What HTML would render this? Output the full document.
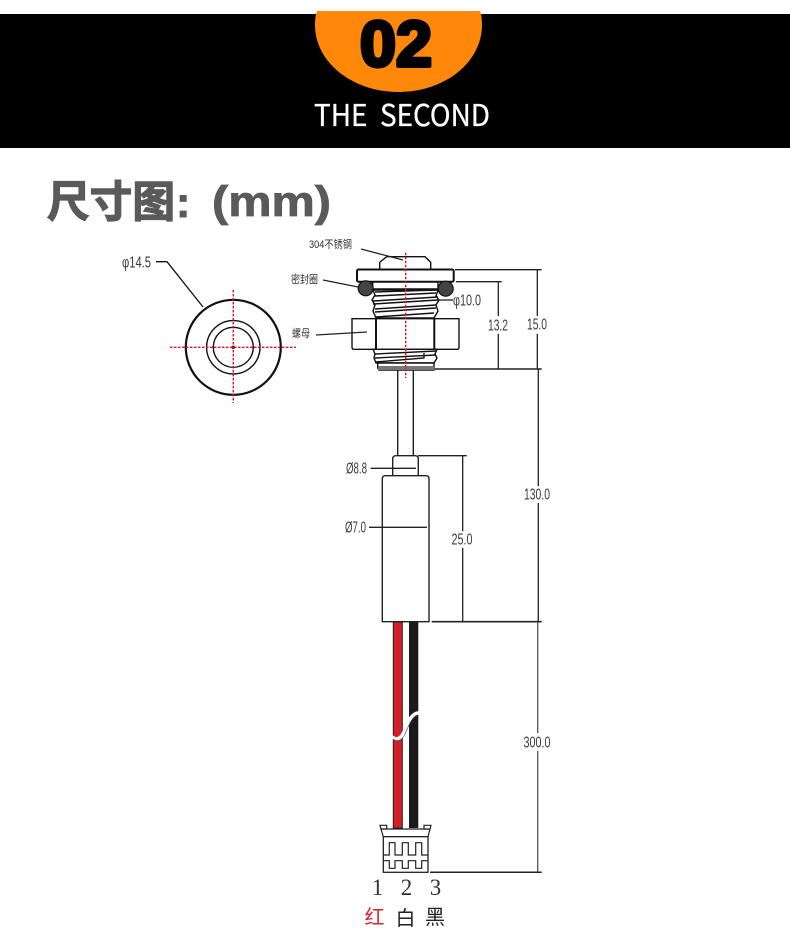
<!DOCTYPE html>
<html>
<head>
<meta charset="utf-8">
<style>
html,body{margin:0;padding:0;background:#fff;}
svg{display:block;}
.d{font-family:"Liberation Sans",sans-serif;font-size:16px;fill:#3a3a3a;text-anchor:middle;dominant-baseline:central;}
.c{font-family:"Liberation Sans","Noto Sans CJK SC",sans-serif;font-size:11px;fill:#333;dominant-baseline:central;}
</style>
</head>
<body>
<svg width="790" height="936" viewBox="0 0 790 936" xmlns="http://www.w3.org/2000/svg">
<rect width="790" height="936" fill="#fff"/>
<rect x="0" y="14" width="790" height="134" fill="#000"/>
<path d="M317 11 H480 Q482 16 482 25 C482 62 445 92 398.500 92 C352 92 315 62 315 25 Q315 16 317 11 Z" fill="#ff8709"/>
<text x="396" y="66" font-family="'Liberation Sans',sans-serif" font-weight="700" font-size="64" fill="#000" stroke="#000" stroke-width="4" stroke-linejoin="round" text-anchor="middle" textLength="72" lengthAdjust="spacingAndGlyphs">02</text>
<text x="314" y="126" font-family="'Noto Sans CJK SC','Liberation Sans',sans-serif" font-size="30" fill="#fff" stroke="#fff" stroke-width="0.300" textLength="176" lengthAdjust="spacingAndGlyphs" xml:space="preserve">THE  SECOND</text>
<text x="47" y="217" font-family="'Noto Sans CJK SC','Liberation Sans',sans-serif" font-weight="700" font-size="43" fill="#5a5a5a" stroke="#5a5a5a" stroke-width="1.300" textLength="128" lengthAdjust="spacingAndGlyphs">尺寸图</text>
<text x="176" y="217" font-family="'Liberation Sans',sans-serif" font-weight="700" font-size="43" fill="#5a5a5a" stroke="#5a5a5a" stroke-width="1">:</text>
<text x="212" y="216" font-family="'Liberation Sans',sans-serif" font-weight="700" font-size="43" fill="#5a5a5a" stroke="#5a5a5a" stroke-width="0.800" textLength="119" lengthAdjust="spacingAndGlyphs">(mm)</text>

<!-- end view -->
<g fill="none" stroke="#111">
<circle cx="233.300" cy="347.300" r="47.500" stroke-width="2.200"/>
<circle cx="233.300" cy="347.300" r="26.700" stroke-width="1.400"/>
<circle cx="233.300" cy="347.300" r="20" stroke-width="1.400"/>
<path d="M156 261.700 H167 L203 307" stroke-width="1.300"/>
</g>
<path d="M233.300 290 V403 M170 347.300 H296" stroke="#e0102a" stroke-width="1.400" stroke-dasharray="2.500 1.500" fill="none"/>
<circle cx="233.300" cy="347.300" r="1.800" fill="#a01020"/>
<text class="d" x="136.500" y="263" textLength="29" lengthAdjust="spacingAndGlyphs">φ14.5</text>

<!-- head -->
<g fill="#fff" stroke="#111" stroke-width="1.400">
<path d="M379.700 269.300 V262.300 L386.700 256.700 H425 L430.700 262.300 V269.300"/>
<path d="M372.700 281.700 V289 H438 V281.700" />
<path d="M373 290 H438 L436 296 L439 300 L436 305 L438 311 L434 318 H376 L373 311 L375 305 L372 300 L375 295 Z"/>
<rect x="357" y="269.500" width="96.700" height="12.200" rx="1.500" stroke-width="2"/>
<path d="M352 318.700 H459 V347 Q459 349.300 457 349.300 H354 Q352 349.300 352 347 Z"/>
<path d="M373 349.300 H437 L435 354 L437 358 L434 363 H376 L374 358 L375 354 Z"/>
<path d="M377.700 363 H434 V370 H379 L377.700 368 Z"/>
</g>
<g fill="none" stroke="#111">
<path d="M376 318.700 V349.300 M434.300 318.700 V349.300" stroke-width="2"/>
<path d="M375 292 L436 290 M375 296 L436 293 M373 301 L438 297 M373 304 L438 300 M375 309 L436 305 M375 312 L436 308 M376 317 L434 313" stroke-width="1.500"/>
<path d="M375 354 L436 351 M375 358 L436 355 M376 362 L424 358 L424 353" stroke-width="1.400"/>
<rect x="378" y="366" width="56" height="4" fill="#777" stroke="none"/>
</g>
<circle cx="365.700" cy="288.300" r="7.500" fill="#444" stroke="#111" stroke-width="1.200"/>
<circle cx="445.700" cy="288.700" r="7.500" fill="#444" stroke="#111" stroke-width="1.200"/>

<!-- tube -->
<path d="M397.700 370 V455 M413.300 370 V455" stroke="#222" stroke-width="1.400" fill="none"/>

<!-- centre dash -->
<path d="M405.700 252.700 V378" stroke="#e0102a" stroke-width="1.400" stroke-dasharray="2.500 1.500" fill="none"/>

<!-- body -->
<path d="M392.700 475.700 V459 Q392.700 455.700 396 455.700 H415 Q418.300 455.700 418.300 459 V475.700" fill="#fff" stroke="#222" stroke-width="1.400"/>
<path d="M382.300 621.700 V479 Q382.300 475.700 385.500 475.700 H426 Q429 475.700 429 479 V621.700 Z" fill="#fff" stroke="#222" stroke-width="1.400"/>

<!-- wires -->
<rect x="393.300" y="622" width="9" height="206" fill="#d2202a" stroke="#222" stroke-width="1"/>
<rect x="409" y="622" width="9.300" height="206" fill="#1c1a1a"/>
<path d="M391 736 C396 741 401 739 404 732 C408 722 412 712 420 713" fill="none" stroke="#fff" stroke-width="3.500"/>
<path d="M393 739 C398 743 402 740 405 734 C409 725 412 716 418 716" fill="none" stroke="#444" stroke-width="0.600"/>

<!-- connector -->
<g fill="#fff" stroke="#222" stroke-width="1.200">
<path d="M381 829 H430 L428 836.700 H383.300 Z"/>
<path d="M380 825.300 H386.700 V829 H381 Z M424 825.300 H431 L430 829 H424 Z"/>
<rect x="383.300" y="836.700" width="44.700" height="35.600" stroke-width="1.300"/>
<path d="M383.300 855 H389.300 V842.700 H395 V855 H402.300 V842.700 H408.300 V855 H415.700 V842.700 H421.700 V855 H428" fill="none"/>
<path d="M383.300 860.700 H389.300 V868.300 H395 V860.700 H402.300 V868.300 H408.300 V860.700 H415.700 V868.300 H421.700 V860.700 H428" fill="none"/>
</g>

<!-- dimensions -->
<g fill="none" stroke="#222" stroke-width="1.300">
<path d="M455 269.700 H541.700 M456 281.700 H501.700 M435 369 H541.700" stroke-width="1.400"/>
<path d="M498.300 282 V316 M498.300 334 V369 M537.300 270 V316 M537.300 334 V369"/>
<path d="M538.300 369 V486 M538.300 503 V621.700"/>
<path d="M418 455.700 H466.700 M462.700 456 V531 M462.700 548 V621.700"/>
<path d="M431.700 621.700 H541.700" stroke-width="1.600"/>
<path d="M537.700 622 V733 M537.700 751 V872.300" stroke="#555"/>
<path d="M430 872.300 H541.700" stroke-width="1.500"/>
<path d="M439 300 H453"/>
<path d="M370.700 468.300 H416"/>
<path d="M369 527.300 H427"/>
<path d="M361 249 L403 260"/>
<path d="M323 280 L358 287"/>
<path d="M316 335 L367 332"/>
</g>

<text class="d" x="498" y="326" textLength="20" lengthAdjust="spacingAndGlyphs">13.2</text>
<text class="d" x="537" y="325" textLength="20" lengthAdjust="spacingAndGlyphs">15.0</text>
<text class="d" x="537" y="495" textLength="26" lengthAdjust="spacingAndGlyphs">130.0</text>
<text class="d" x="462" y="540" textLength="21" lengthAdjust="spacingAndGlyphs">25.0</text>
<text class="d" x="537" y="743" textLength="27" lengthAdjust="spacingAndGlyphs">300.0</text>
<text class="d" x="467" y="301" textLength="28" lengthAdjust="spacingAndGlyphs">φ10.0</text>
<text class="d" x="356.500" y="469" textLength="21" lengthAdjust="spacingAndGlyphs">Ø8.8</text>
<text class="d" x="355.500" y="528" textLength="21" lengthAdjust="spacingAndGlyphs">Ø7.0</text>
<text class="c" x="309" y="245" textLength="43" lengthAdjust="spacingAndGlyphs">304不锈钢</text>
<text class="c" x="291" y="280" textLength="27" lengthAdjust="spacingAndGlyphs">密封圈</text>
<text class="c" x="292" y="334" textLength="18" lengthAdjust="spacingAndGlyphs">螺母</text>

<g font-family="'Liberation Serif',serif" font-size="23" fill="#333" text-anchor="middle">
<text x="377.500" y="895">1</text>
<text x="406.500" y="895">2</text>
<text x="435.500" y="895">3</text>
</g>
<g font-family="'Noto Sans CJK SC',sans-serif" font-size="20" text-anchor="middle" font-weight="400">
<text x="374.500" y="924" fill="#d9262e">红</text>
<text x="405.500" y="925" fill="#222">白</text>
<text x="435" y="924" fill="#222">黑</text>
</g>
</svg>
</body>
</html>
